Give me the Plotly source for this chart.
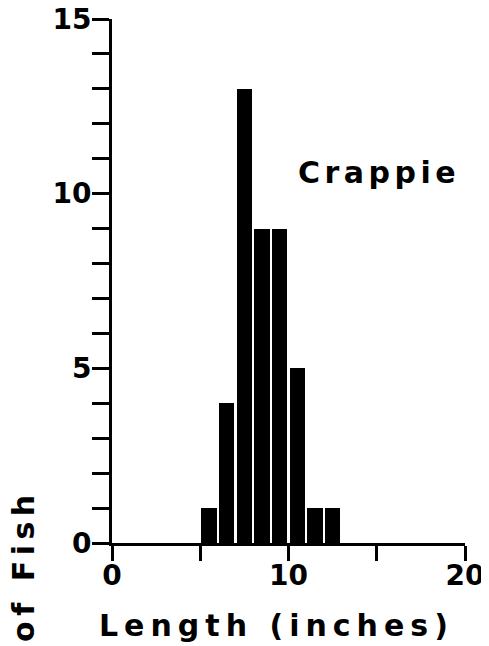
import plotly.graph_objects as go

# Data
lengths = [5.5, 6.5, 7.5, 8.5, 9.5, 10.5, 11.5, 12.5]
counts = [1, 4, 13, 9, 9, 5, 1, 1]

x_tickvals = [0, 5, 10, 15, 20]
x_ticktext = ["0", "", "10", "", "20"]
y_tickvals = list(range(0, 16))
y_ticktext = [str(v) if v % 5 == 0 else "" for v in y_tickvals]

species = "Crappie"
x_title = "Length (inches)"
y_title = "Number of Fish"

FONT = "DejaVu Sans"


def spaced(text, px):
    return f'<span style="letter-spacing:{px}px">{text}</span>'


fig = go.Figure()
fig.add_trace(go.Bar(
    x=lengths, y=counts, width=0.86,
    marker=dict(color="black", line=dict(width=0)),
    showlegend=False,
))

# The page body adds an 8px offset; margins compensate for it.
fig.update_layout(
    width=489, height=646,
    margin=dict(l=104, r=32, t=11, b=111, autoexpand=False),
    paper_bgcolor="white", plot_bgcolor="white",
    font=dict(family=FONT, color="black"),
    bargap=0,
)

tick_font = dict(family=FONT, size=28, weight="bold", color="black")

fig.update_xaxes(
    range=[0, 20], showgrid=False, zeroline=False,
    showline=True, linecolor="black", linewidth=3,
    ticks="outside", ticklen=15, tickwidth=3, tickcolor="black",
    tickvals=x_tickvals, ticktext=x_ticktext,
    tickfont=tick_font, ticklabeloverflow="allow", ticklabelstandoff=-10,
)
fig.update_yaxes(
    range=[0, 15], showgrid=False, zeroline=False,
    showline=True, linecolor="black", linewidth=3,
    ticks="outside", ticklen=17, tickwidth=3, tickcolor="black",
    tickvals=y_tickvals, ticktext=y_ticktext,
    tickfont=tick_font, ticklabeloverflow="allow", ticklabelstandoff=-5,
)

fig.add_annotation(
    text=spaced(species, 4.5), x=15.13, y=10.6, xref="x", yref="y",
    showarrow=False, xanchor="center", yanchor="middle",
    font=dict(family=FONT, size=30, weight="bold", color="black"),
)
fig.add_annotation(
    text=spaced(x_title, 6), x=0.465, y=-0.158, xref="paper", yref="paper",
    showarrow=False, xanchor="center", yanchor="middle",
    font=dict(family=FONT, size=30, weight="bold", color="black"),
)
fig.add_annotation(
    text=spaced(y_title, 5.5), x=-0.25, y=0.106, xref="paper", yref="paper",
    showarrow=False, xanchor="center", yanchor="top", textangle=-90,
    font=dict(family=FONT, size=30, weight="bold", color="black"),
)

fig.write_html("out.html")
